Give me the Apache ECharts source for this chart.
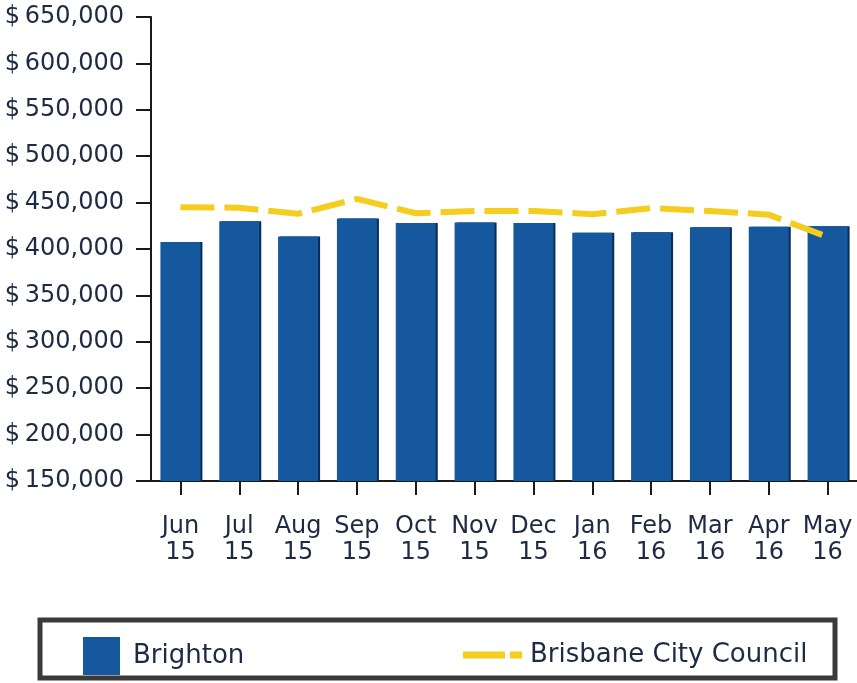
<!DOCTYPE html>
<html>
<head>
<meta charset="utf-8">
<script src="https://cdn.jsdelivr.net/npm/echarts@6/dist/echarts.min.js"></script>
<style>
html,body{margin:0;padding:0;background:#fff;}
#chart{width:857px;height:683px;}
</style>
</head>
<body>
<div id="chart"></div>
<script>
const categories = ['Jun\n15','Jul\n15','Aug\n15','Sep\n15','Oct\n15','Nov\n15','Dec\n15','Jan\n16','Feb\n16','Mar\n16','Apr\n16','May\n16'];
const brighton = [407500, 430000, 413500, 433000, 428000, 428500, 428000, 417500, 418000, 423500, 424000, 424500];
const brisbane = [445000, 444500, 438000, 454000, 438500, 441000, 441000, 437500, 444000, 441000, 437000, 413000];
const yMin = 150000, yMax = 650000, yStep = 50000;

const textColor = '#1d2a44';
const font = 'DejaVu Sans';
const chart = echarts.init(document.getElementById('chart'), null, {renderer:'canvas'});
chart.setOption({
  animation:false,
  backgroundColor:'#ffffff',
  grid:{left:151, right:0, top:17, bottom:202, containLabel:false},
  xAxis:{
    type:'category', data:categories, boundaryGap:true,
    axisLine:{show:true, lineStyle:{color:'#1a1a1a', width:2}},
    axisTick:{show:true, alignWithLabel:true, length:14, lineStyle:{color:'#1a1a1a', width:2}},
    axisLabel:{color:textColor, fontFamily:font, fontSize:24, lineHeight:26, margin:33, interval:0}
  },
  yAxis:{
    type:'value', min:yMin, max:yMax, interval:yStep,
    splitLine:{show:false},
    axisLine:{show:true, lineStyle:{color:'#1a1a1a', width:2}},
    axisTick:{show:true, length:15, lineStyle:{color:'#1a1a1a', width:2}},
    axisLabel:{color:textColor, fontFamily:font, fontSize:24, margin:27,
      formatter:v => '$\u2009' + v.toLocaleString('en-US')}
  },
  legend:[
    {data:[{name:'Brighton', icon:'rect'}], left:78, top:632, itemWidth:37, itemHeight:38,
     textStyle:{color:textColor, fontFamily:font, fontSize:26, padding:[0,0,0,8]}},
    {data:[{name:'Brisbane City Council', icon:'path://M0,0 H42 V7 H0 Z M47,0 H59 V7 H47 Z'}],
     left:458, top:637, itemWidth:59, itemHeight:7,
     itemStyle:{color:'#f5cd1f'},
     textStyle:{color:textColor, fontFamily:font, fontSize:26, padding:[0,0,0,3]}}
  ],
  graphic:[
    {type:'rect', shape:{x:40, y:620, width:795, height:58},
     style:{fill:'none', stroke:'#3a3a3a', lineWidth:5}, z:-1}
  ],
  series:[
    {name:'Brighton', type:'bar', data:brighton, barWidth:40,
     itemStyle:{color:'#15589e', shadowColor:'#0b2c55', shadowOffsetX:2, shadowBlur:0}},
    {name:'Brisbane City Council', type:'line', data:brisbane, symbol:'none',
     lineStyle:{color:'#f5cd1f', width:6, type:[34,10]}, itemStyle:{color:'#f5cd1f'}, z:5}
  ]
});
</script>
</body>
</html>
